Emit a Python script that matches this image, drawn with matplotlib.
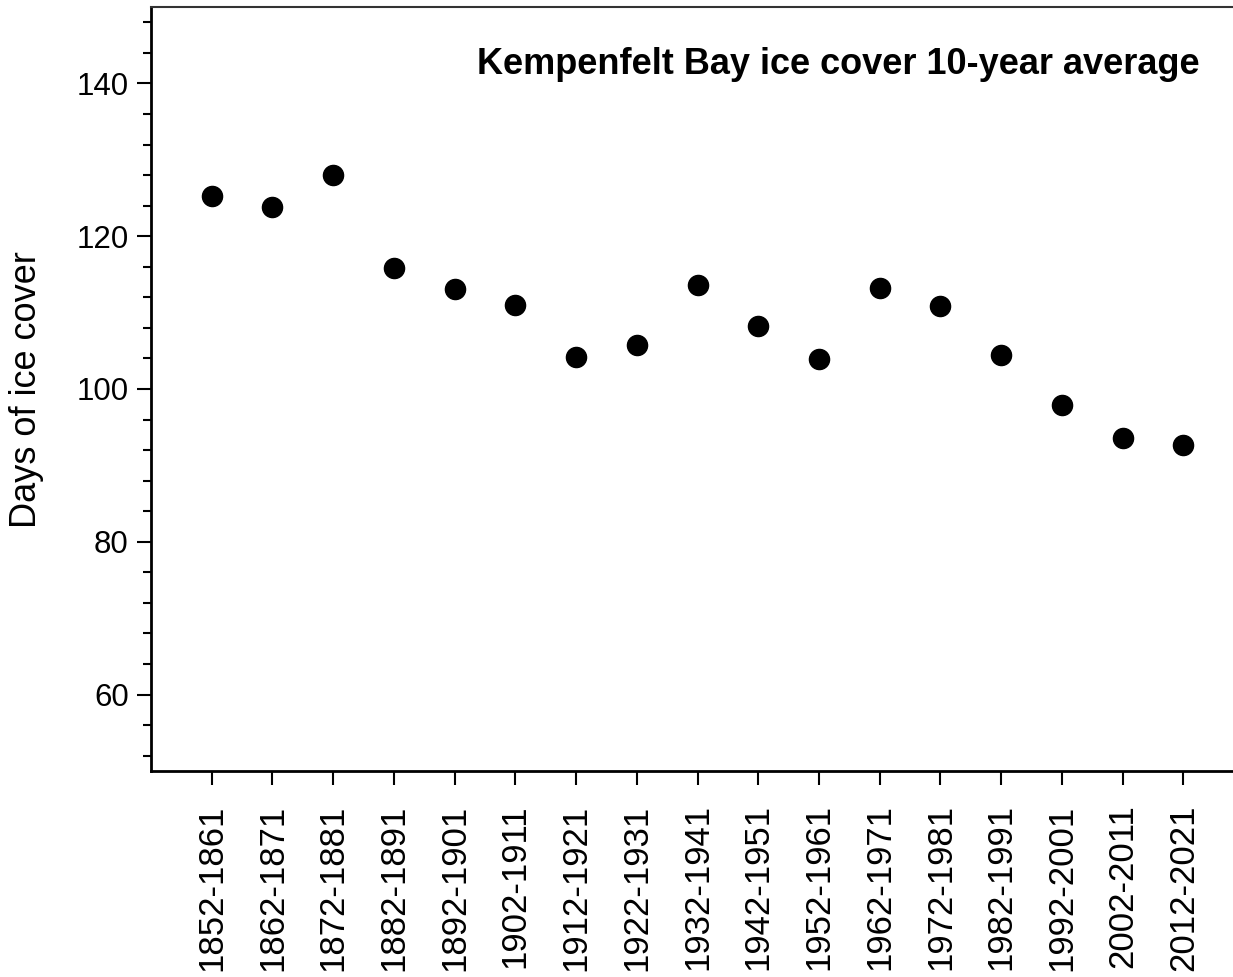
import matplotlib
matplotlib.use("Agg")
import matplotlib.pyplot as plt
from matplotlib.ticker import MultipleLocator

periods = ["1852-1861", "1862-1871", "1872-1881", "1882-1891", "1892-1901",
           "1902-1911", "1912-1921", "1922-1931", "1932-1941", "1942-1951",
           "1952-1961", "1962-1971", "1972-1981", "1982-1991", "1992-2001",
           "2002-2011", "2012-2021"]
days = [125.2, 123.8, 128.0, 115.8, 113.1, 111.0, 104.2, 105.8, 113.6, 108.2,
        103.9, 113.2, 110.8, 104.4, 97.9, 93.6, 92.7]

plt.rcParams['font.family'] = ['Liberation Sans', 'DejaVu Sans']

W, H = 1233, 977
fig = plt.figure(figsize=(W / 100, H / 100), dpi=100)
left, right, top, bottom = 151, 1244, 7, 771
ax = fig.add_axes([left / W, 1 - bottom / H, (right - left) / W, (bottom - top) / H])

x = list(range(1, len(periods) + 1))
ax.plot(x, days, 'o', color='black', markersize=14.5, linestyle='none')

ax.set_xlim(0, 18)
ax.set_ylim(50, 150)
ax.set_xticks(x)
ax.set_xticklabels(periods, rotation=90, fontsize=25)
ax.yaxis.set_minor_locator(MultipleLocator(4))
ax.set_yticks([60, 80, 100, 120, 140])
ax.tick_params(axis='y', which='major', labelsize=22.5, length=10, width=1.5, direction='out', pad=6)
ax.tick_params(axis='y', which='minor', length=6, width=1.5, direction='out')
ax.tick_params(axis='x', which='major', length=10, width=1.5, direction='out', pad=14)

for s in ['left', 'bottom']:
    ax.spines[s].set_linewidth(2)
ax.spines['top'].set_linewidth(1.5)
ax.spines['top'].set_color('#333333')
ax.spines['right'].set_visible(False)

fig.text(27 / W, 1 - 390 / H, "Days of ice cover", rotation=90, fontsize=26,
         ha='center', va='center')
fig.text(1200 / W, 1 - 64 / H, "Kempenfelt Bay ice cover 10-year average",
         fontsize=26, fontweight='bold', ha='right', va='center')

fig.savefig("out.png", dpi=100)
